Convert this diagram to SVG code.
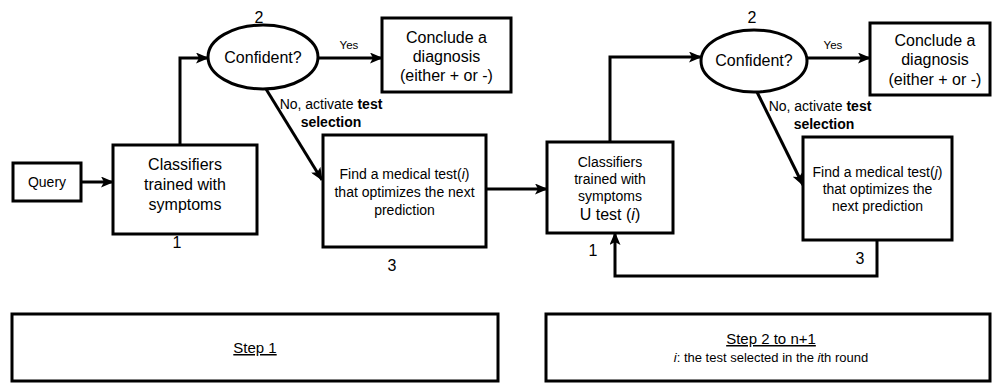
<svg xmlns="http://www.w3.org/2000/svg" width="992" height="384" viewBox="0 0 992 384">
<style>
text{font-family:"Liberation Sans",Arial,sans-serif;fill:#000}
.box{fill:#fff;stroke:#000;stroke-width:3}
.ln{fill:none;stroke:#000;stroke-width:3;marker-end:url(#ah)}
.c{text-anchor:middle}
.f16{font-size:16px}
.f15{font-size:15px}
.f14{font-size:14px}
.f13{font-size:13px}
.b{font-weight:bold}
.u{text-decoration:underline}
</style>
<defs>
<marker id="ah" markerUnits="userSpaceOnUse" markerWidth="13" markerHeight="11" refX="12" refY="5.5" orient="auto">
<path d="M0,0 L13,5.5 L0,11 L3,5.5 Z" fill="#000"/>
</marker>
</defs>
<rect width="992" height="384" fill="#fff"/>
<g id="connectors">
<path class="ln" d="M81,182 H113"/>
<path class="ln" d="M180,145 V58 H208"/>
<path class="ln" d="M318,58 H382"/>
<path class="ln" d="M266,89 L322,180"/>
<path class="ln" d="M486,189 H547"/>
<path class="ln" d="M610,142 V57 H701"/>
<path class="ln" d="M807,58 H870"/>
<path class="ln" d="M757,92 L803,185"/>
<path class="ln" d="M877,240 V276 H615 V233"/>
<text x="349" y="49" class="c" font-size="11.5">Yes</text>
<text x="833" y="49" class="c" font-size="11.5">Yes</text>
<text x="331" y="109" class="c f14">No, activate <tspan class="b">test</tspan></text>
<text x="331" y="127" class="c f14 b">selection</text>
<text x="820" y="111" class="c f14">No, activate <tspan class="b">test</tspan></text>
<text x="824" y="129" class="c f14 b">selection</text>
</g>
<g id="query">
<rect class="box" x="13" y="163" width="68" height="38"/>
<text x="47" y="187" class="c f14">Query</text>
</g>
<g id="classifiers1">
<rect class="box" x="113" y="145" width="144" height="89"/>
<text x="185" y="170" class="c f16">Classifiers</text>
<text x="185" y="190" class="c f16">trained with</text>
<text x="185" y="210" class="c f16">symptoms</text>
<text x="177" y="248" class="c f16">1</text>
</g>
<g id="confident1">
<ellipse class="box" cx="263" cy="57" rx="55" ry="32"/>
<text x="263" y="63" class="c f16">Confident?</text>
<text x="259" y="23" class="c f16">2</text>
</g>
<g id="conclude1">
<rect class="box" x="382" y="18" width="129" height="74"/>
<text x="446.5" y="43" class="c f16">Conclude a</text>
<text x="446.5" y="62" class="c f16">diagnosis</text>
<text x="446.5" y="81" class="c f16">(either + or -)</text>
</g>
<g id="find1">
<rect class="box" x="323" y="135" width="163" height="112"/>
<text x="404.5" y="179" class="c f14">Find a medical test(<tspan font-style="italic">i</tspan>)</text>
<text x="404.5" y="197" class="c f14">that optimizes the next</text>
<text x="404.5" y="215" class="c f14">prediction</text>
<text x="392" y="271" class="c f16">3</text>
</g>
<g id="classifiers2">
<rect class="box" x="547" y="142" width="126" height="91"/>
<text x="610" y="167" class="c f14">Classifiers</text>
<text x="610" y="184" class="c f14">trained with</text>
<text x="610" y="201" class="c f14">symptoms</text>
<text x="610" y="220" class="c f16">U test (<tspan font-style="italic">i</tspan>)</text>
<text x="593" y="256" class="c f16">1</text>
</g>
<g id="confident2">
<ellipse class="box" cx="754" cy="61" rx="53" ry="31"/>
<text x="754" y="66" class="c f16">Confident?</text>
<text x="752" y="23" class="c f16">2</text>
</g>
<g id="conclude2">
<rect class="box" x="870" y="23" width="120" height="72"/>
<text x="935" y="46" class="c f16">Conclude a</text>
<text x="935" y="65" class="c f16">diagnosis</text>
<text x="935" y="85" class="c f16">(either + or -)</text>
</g>
<g id="find2">
<rect class="box" x="803" y="137" width="149" height="103"/>
<text x="877.5" y="177" class="c f14">Find a medical test(<tspan font-style="italic">j</tspan>)</text>
<text x="877.5" y="194" class="c f14">that optimizes the</text>
<text x="877.5" y="211" class="c f14">next prediction</text>
<text x="860" y="264" class="c f16">3</text>
</g>
<g id="step1">
<rect class="box" x="12" y="314" width="486" height="67"/>
<text x="255" y="353" class="c f15 u">Step 1</text>
</g>
<g id="step2">
<rect class="box" x="546" y="314" width="444" height="67"/>
<text x="771" y="344" class="c f15 u">Step 2 to n+1</text>
<text x="771" y="362" class="c f13"><tspan font-style="italic">i</tspan>: the test selected in the <tspan font-style="italic">i</tspan>th round</text>
</g>
</svg>
